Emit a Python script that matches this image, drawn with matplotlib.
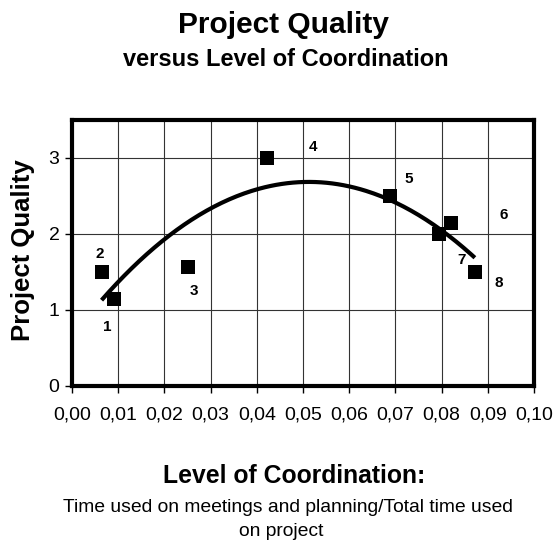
import numpy as np
import matplotlib
matplotlib.use("Agg")
import matplotlib.pyplot as plt

plt.rcParams['font.family'] = ['Liberation Sans', 'DejaVu Sans']

# Data
project_ids = ["1", "2", "3", "4", "5", "6", "7", "8"]
coordination = [0.009, 0.0064, 0.025, 0.0423, 0.0688, 0.082, 0.0795, 0.0872]
quality = [1.15, 1.5, 1.57, 3.0, 2.5, 2.15, 2.0, 1.5]
label_x = [0.0077, 0.0061, 0.0265, 0.0522, 0.0728, 0.0934, 0.0843, 0.0923]
label_y = [0.77, 1.74, 1.25, 3.14, 2.73, 2.25, 1.66, 1.35]
x_ticks = [0.00, 0.01, 0.02, 0.03, 0.04, 0.05, 0.06, 0.07, 0.08, 0.09, 0.10]
y_ticks = [0, 1, 2, 3]

fig = plt.figure(figsize=(5.55, 5.45), dpi=100)
W, H = 555, 545
ax = fig.add_axes([72 / W, 1 - 386 / H, (534 - 72) / W, (386 - 120) / H])

# Quadratic trendline
coef = np.polyfit(coordination, quality, 2)
xs = np.linspace(min(coordination), max(coordination), 200)
ax.plot(xs, np.polyval(coef, xs), color='black', lw=3, zorder=3, solid_capstyle='butt')

ax.scatter(coordination, quality, marker='s', s=110, color='black', zorder=4, linewidths=0)
for lbl, lx, ly in zip(project_ids, label_x, label_y):
    ax.text(lx, ly, lbl, ha='center', va='center', fontsize=11, fontweight='bold', zorder=5)

ax.set_xlim(0, 0.1)
ax.set_ylim(0, 3.5)
ax.set_xticks(x_ticks)
ax.set_xticklabels([f"{v:.2f}".replace('.', ',') for v in x_ticks], fontsize=14)
ax.set_yticks(y_ticks)
ax.set_yticklabels([str(v) for v in y_ticks], fontsize=14)
ax.grid(True, color='#333333', lw=0.8)
ax.set_axisbelow(True)
for s in ax.spines.values():
    s.set_linewidth(3)
ax.tick_params(axis='x', direction='out', length=5, width=1, pad=10)
ax.tick_params(axis='y', direction='out', length=5, width=1, pad=4)

fig.text(283 / W, 1 - 33 / H, "Project Quality", ha='center', va='baseline', fontsize=21.5, fontweight='bold')
fig.text(286 / W, 1 - 66 / H, "versus Level of Coordination", ha='center', va='baseline', fontsize=17, fontweight='bold')
fig.text(23 / W, 1 - 250 / H, "Project Quality", ha='center', va='center', rotation=90, fontsize=18.5, fontweight='bold')
fig.text(294 / W, 1 - 483 / H, "Level of Coordination:", ha='center', va='baseline', fontsize=17.8, fontweight='bold')
fig.text(288 / W, 1 - 512 / H, "Time used on meetings and planning/Total time used", ha='center', va='baseline', fontsize=13.9)
fig.text(281 / W, 1 - 536 / H, "on project", ha='center', va='baseline', fontsize=13.9)

fig.savefig("out.png", dpi=100)
